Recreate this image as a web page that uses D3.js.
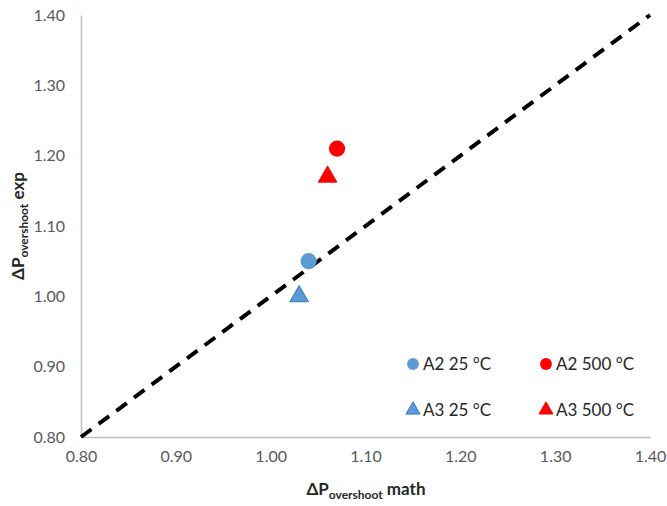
<!DOCTYPE html>
<html>
<head>
<meta charset="utf-8">
<script src="https://cdn.jsdelivr.net/npm/d3@7"></script>
<style>
  body { margin: 0; background: #fff; }
  svg { display: block; font-family: Lato, "Open Sans", sans-serif; }
</style>
</head>
<body>
<svg id="chart" width="667" height="506"></svg>
<script>
// Experimental vs. calculated overshoot pressure
const seriesNames = ["A2 25 °C", "A2 500 °C", "A3 25 °C", "A3 500 °C"];
const mathValues  = [1.04, 1.07, 1.03, 1.06];
const expValues   = [1.05, 1.21, 1.00, 1.17];
const seriesShape = ["circle", "circle", "triangle", "triangle"];
const seriesFill  = ["#5B9BD5", "#FF0000", "#5B9BD5", "#FF0000"];
const seriesStroke = ["#5B9BD5", "#FF0000", "#2E75B6", "#FF0000"];
const tickValues  = [0.80, 0.90, 1.00, 1.10, 1.20, 1.30, 1.40];
const parityLine  = [[0.80, 0.80], [1.40, 1.40]];

const svg = d3.select("#chart");
const margin = { left: 81, right: 17, top: 15, bottom: 69 };
const W = 667, H = 506;

const x = d3.scaleLinear().domain([0.8, 1.4]).range([margin.left, W - margin.right]);
const y = d3.scaleLinear().domain([0.8, 1.4]).range([H - margin.bottom, margin.top]);

// axes
const xAxis = svg.append("g")
  .attr("transform", `translate(0,${y(0.8)})`)
  .call(d3.axisBottom(x).tickValues(tickValues).tickFormat(d3.format(".2f")).tickSize(0).tickPadding(14));
const yAxis = svg.append("g")
  .attr("transform", `translate(${x(0.8)},0)`)
  .call(d3.axisLeft(y).tickValues(tickValues).tickFormat(d3.format(".2f")).tickSize(0).tickPadding(16));
[xAxis, yAxis].forEach(g => {
  g.select(".domain").attr("stroke", "#bfbfbf").attr("stroke-width", 1.5);
  g.selectAll("text").attr("fill", "#595959").style("font-size", "16px")
    .style("font-family", "Lato, 'Open Sans', sans-serif");
});

// parity line
svg.append("path")
  .datum(parityLine)
  .attr("d", d3.line().x(d => x(d[0])).y(d => y(d[1])))
  .attr("stroke", "#000").attr("stroke-width", 4)
  .attr("stroke-dasharray", "13,9").attr("fill", "none");

// markers
const sym = {
  circle: d3.symbol().type(d3.symbolCircle).size(205),
  triangle: d3.symbol().type(d3.symbolTriangle).size(150)
};
mathValues.forEach((mv, i) => {
  svg.append("path")
    .attr("d", sym[seriesShape[i]]())
    .attr("transform", `translate(${x(mv)},${y(expValues[i])})`)
    .attr("fill", seriesFill[i])
    .attr("stroke", seriesStroke[i])
    .attr("stroke-width", seriesShape[i] === "triangle" ? 1 : 0);
});

// legend
const legendPos = [[413, 364], [546, 364], [413, 410], [546, 410]];
const legendSym = {
  circle: d3.symbol().type(d3.symbolCircle).size(110),
  triangle: d3.symbol().type(d3.symbolTriangle).size(85)
};
seriesNames.forEach((name, i) => {
  const [lx, ly] = legendPos[i];
  svg.append("path")
    .attr("d", legendSym[seriesShape[i]]())
    .attr("transform", `translate(${lx},${ly})`)
    .attr("fill", seriesFill[i])
    .attr("stroke", seriesStroke[i])
    .attr("stroke-width", seriesShape[i] === "triangle" ? 1 : 0);
  svg.append("text")
    .attr("x", lx + 10).attr("y", ly)
    .attr("dy", "0.35em")
    .attr("fill", "#262626")
    .style("font-size", "17px")
    .text(name);
});

// axis titles
function axisTitle(g, word) {
  const t = g.append("text").attr("font-weight", "bold").attr("fill", "#262626")
    .style("font-size", "17px").attr("text-anchor", "middle");
  t.append("tspan").text("ΔP");
  t.append("tspan").attr("dy", 4).style("font-size", "12px").text("overshoot");
  t.append("tspan").attr("dy", -4).text(" " + word);
  return t;
}
axisTitle(svg.append("g").attr("transform", "translate(366,495)"), "math");
axisTitle(svg.append("g").attr("transform", "translate(24,226) rotate(-90)"), "exp");
</script>
</body>
</html>
